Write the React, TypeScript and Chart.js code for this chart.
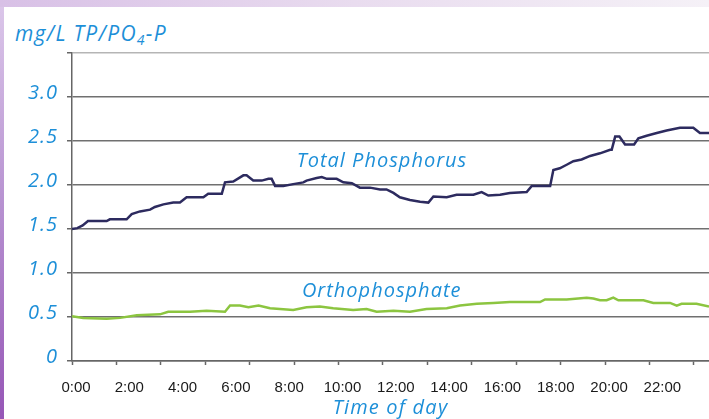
import React, { useEffect, useRef } from 'react';
import { Chart, registerables } from 'chart.js';

Chart.register(...registerables);

// ---- data (hours of day, mg/L) ----
const tpHours = [0, 0.2, 0.4, 0.6, 1.3, 1.42, 2.05, 2.24, 2.55, 2.93, 3.11, 3.43, 3.8, 4.05, 4.3, 4.93, 5.11, 5.62, 5.74, 6.05, 6.43, 6.55, 6.8, 7.12, 7.37, 7.49, 7.62, 7.93, 8.3, 8.68, 8.8, 9.18, 9.37, 9.56, 9.93, 10.18, 10.5, 10.8, 11.18, 11.56, 11.8, 12.06, 12.3, 12.68, 13.06, 13.37, 13.56, 14.06, 14.43, 15.06, 15.37, 15.62, 16.06, 16.43, 17.06, 17.25, 17.94, 18.06, 18.3, 18.56, 18.81, 19.12, 19.44, 19.81, 20.19, 20.25, 20.38, 20.54, 20.75, 21.09, 21.25, 21.56, 21.94, 22.31, 22.81, 23.31, 23.56, 23.9];
const tpValues = [1.5, 1.51, 1.54, 1.59, 1.59, 1.61, 1.61, 1.67, 1.7, 1.72, 1.75, 1.78, 1.8, 1.8, 1.86, 1.86, 1.9, 1.9, 2.03, 2.04, 2.11, 2.11, 2.05, 2.05, 2.07, 2.07, 1.99, 1.99, 2.01, 2.03, 2.05, 2.08, 2.09, 2.07, 2.07, 2.03, 2.02, 1.97, 1.97, 1.95, 1.95, 1.91, 1.86, 1.83, 1.81, 1.8, 1.87, 1.86, 1.89, 1.89, 1.92, 1.88, 1.89, 1.91, 1.92, 1.99, 1.99, 2.17, 2.19, 2.23, 2.27, 2.29, 2.33, 2.36, 2.4, 2.4, 2.55, 2.55, 2.46, 2.46, 2.53, 2.56, 2.59, 2.62, 2.65, 2.65, 2.59, 2.59];

const opHours = [0, 0.42, 1.3, 1.8, 2.43, 3.3, 3.61, 4.43, 5.05, 5.74, 5.93, 6.3, 6.62, 7.0, 7.43, 8.3, 8.8, 9.3, 9.8, 10.55, 11.05, 11.43, 12.06, 12.68, 13.3, 14.06, 14.56, 15.19, 15.81, 16.43, 17.56, 17.75, 18.56, 19.31, 19.56, 19.81, 20.06, 20.31, 20.5, 21.44, 21.81, 22.44, 22.69, 22.87, 23.43, 23.9];
const opValues = [0.51, 0.49, 0.48, 0.49, 0.52, 0.53, 0.56, 0.56, 0.57, 0.56, 0.63, 0.63, 0.61, 0.63, 0.6, 0.58, 0.61, 0.62, 0.6, 0.58, 0.59, 0.56, 0.57, 0.56, 0.59, 0.6, 0.63, 0.65, 0.66, 0.67, 0.67, 0.7, 0.7, 0.72, 0.71, 0.69, 0.69, 0.72, 0.69, 0.69, 0.66, 0.66, 0.63, 0.65, 0.65, 0.62];

const yTickValues = [0, 0.5, 1, 1.5, 2, 2.5, 3, 3.5];
const yTickLabels = ['0', '0.5', '1.0', '1.5', '2.0', '2.5', '3.0', ''];
const xLabelHours = [0, 2, 4, 6, 8, 10, 12, 14, 16, 18, 20, 22];
const xLabelTexts = ['0:00', '2:00', '4:00', '6:00', '8:00', '10:00', '12:00', '14:00', '16:00', '18:00', '20:00', '22:00'];
const xMarkHours = [0, 1.667, 3.333, 5, 6.667, 8.333, 10, 11.667, 13.333, 15, 16.667, 18.333, 20, 21.667, 23.333];

const seriesNames = ['Total Phosphorus', 'Orthophosphate'];
const seriesColors = ['#2d2b5f', '#8cc540'];
const nameHour = [11.63, 11.62];
const nameValue = [2.21, 0.73];

const BLUE = '#1d8fd8';
const FONT = "'Open Sans', 'DejaVu Sans', sans-serif";

const spacingPlugin = {
  id: 'letterSpacing',
  beforeDraw(chart: any) {
    const ctx = chart.ctx;
    const y = chart.scales.y;
    const xl = chart.scales.xl;
    if (y && !y._lsPatched) {
      const orig = y.drawLabels.bind(y);
      y.drawLabels = (area: any) => {
        ctx.letterSpacing = '1px';
        orig(area);
        ctx.letterSpacing = '0px';
      };
      y._lsPatched = true;
    }
    if (xl && !xl._lsPatched) {
      const origT = xl.drawTitle.bind(xl);
      xl.drawTitle = (area: any) => {
        ctx.letterSpacing = '1.2px';
        origT(area);
        ctx.letterSpacing = '0px';
      };
      xl._lsPatched = true;
    }
  },
};

const seriesNamePlugin = {
  id: 'seriesNames',
  afterDatasetsDraw(chart: any) {
    const { ctx, scales } = chart;
    ctx.save();
    ctx.fillStyle = BLUE;
    ctx.font = `italic 400 20px ${FONT}`;
    ctx.letterSpacing = '1px';
    ctx.textAlign = 'center';
    ctx.textBaseline = 'alphabetic';
    seriesNames.forEach((n, i) => {
      ctx.fillText(n, scales.x.getPixelForValue(nameHour[i]), scales.y.getPixelForValue(nameValue[i]));
    });
    ctx.letterSpacing = '0px';
    ctx.restore();
  },
};

export default function App() {
  const ref = useRef<HTMLCanvasElement | null>(null);

  useEffect(() => {
    document.body.style.margin = '0';
    const canvas = ref.current;
    if (!canvas) return;
    const chart = new Chart(canvas, {
      type: 'line',
      data: {
        datasets: [
          {
            label: seriesNames[0],
            data: tpHours.map((h, i) => ({ x: h, y: tpValues[i] })),
            borderColor: seriesColors[0],
            borderWidth: 2.5,
            pointRadius: 0,
            tension: 0,
            xAxisID: 'x',
            yAxisID: 'y',
          },
          {
            label: seriesNames[1],
            data: opHours.map((h, i) => ({ x: h, y: opValues[i] })),
            borderColor: seriesColors[1],
            borderWidth: 2.5,
            pointRadius: 0,
            tension: 0,
            xAxisID: 'x',
            yAxisID: 'y',
          },
        ],
      },
      options: {
        animation: false,
        responsive: false,
        maintainAspectRatio: false,
        layout: { padding: { top: 53, left: 0, right: 0, bottom: 0 } },
        plugins: { legend: { display: false }, tooltip: { enabled: false } },
        scales: {
          x: {
            type: 'linear',
            min: 0,
            max: 23.9,
            position: 'bottom',
            weight: 0,
            afterBuildTicks: (s: any) => {
              s.ticks = xMarkHours.map((v) => ({ value: v }));
            },
            grid: { drawOnChartArea: false, drawTicks: true, tickLength: 4, tickColor: '#666', tickWidth: 1.5 },
            border: { display: true, color: '#666', width: 1.5 },
            ticks: { display: false },
            afterFit: (s: any) => {
              s.height = 4;
            },
          },
          xl: {
            type: 'linear',
            min: 0,
            max: 23.9,
            position: 'bottom',
            weight: 1,
            afterBuildTicks: (s: any) => {
              s.ticks = xLabelHours.map((v) => ({ value: v }));
            },
            grid: { display: false, drawTicks: false },
            border: { display: false },
            ticks: {
              autoSkip: false,
              maxRotation: 0,
              padding: 14,
              labelOffset: 4,
              color: '#1a1a1a',
              font: { family: "'Liberation Sans', Arial, sans-serif", size: 15 },
              callback: (_v: any, i: number) => xLabelTexts[i],
            },
            title: {
              display: true,
              text: 'Time of day',
              color: BLUE,
              font: { family: FONT, size: 20, style: 'italic', lineHeight: 1.1 },
              padding: { top: 0, bottom: 0 },
            },
            afterFit: (s: any) => {
              s.height = 54;
            },
          },
          y: {
            type: 'linear',
            min: 0,
            max: 3.5,
            afterBuildTicks: (s: any) => {
              s.ticks = yTickValues.map((v) => ({ value: v }));
            },
            grid: {
              color: (c: any) => (c.tick && c.tick.value === 3.5 ? '#b5b5b5' : '#707070'),
              lineWidth: 1.5,
              drawTicks: true,
              tickLength: 5,
              tickColor: '#666',
            },
            border: { color: '#666', width: 1.5 },
            ticks: {
              color: BLUE,
              padding: 9,
              labelOffset: -4,
              font: { family: FONT, size: 20, style: 'italic' },
              callback: (_v: any, i: number) => yTickLabels[i],
            },
            afterFit: (s: any) => {
              s.width = 72;
            },
          },
        },
      } as any,
      plugins: [spacingPlugin, seriesNamePlugin],
    });
    return () => chart.destroy();
  }, []);

  return (
    <div style={{ position: 'relative', width: 709, height: 419, overflow: 'hidden', background: 'linear-gradient(to bottom, #dcc8ea, #b690d0 50%, #9656b6)' }}>
      <div style={{ position: 'absolute', left: 0, top: 0, width: 709, height: 7, background: 'linear-gradient(to right, #d8c0e6, #e9dcef 50%, #f5f1f7)' }} />
      <div style={{ position: 'absolute', left: 4, top: 7, right: 0, bottom: 0, background: '#ffffff' }} />
      <div
        style={{
          position: 'absolute',
          left: 15,
          top: 20,
          fontFamily: FONT,
          fontStyle: 'italic',
          fontSize: 21,
          letterSpacing: 1.3,
          lineHeight: '26px',
          color: BLUE,
          whiteSpace: 'nowrap',
        }}
      >
        mg/L TP/PO<sub style={{ fontSize: 14, verticalAlign: -4, lineHeight: 0 }}>4</sub>-P
      </div>
      <canvas ref={ref} width={709} height={419} style={{ position: 'absolute', left: 0, top: 0, display: 'block' }} />
    </div>
  );
}
